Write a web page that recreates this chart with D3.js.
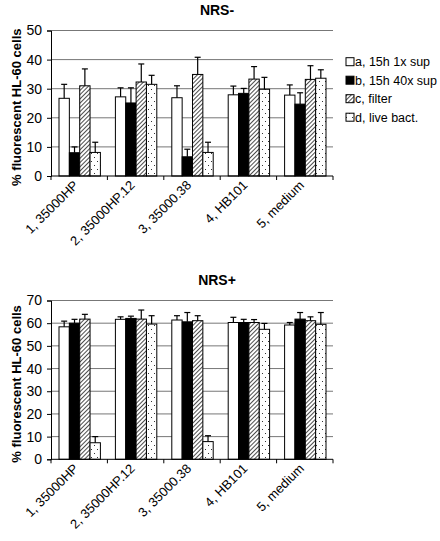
<!DOCTYPE html>
<html><head><meta charset="utf-8">
<script src="https://cdn.jsdelivr.net/npm/d3@7"></script>
<style>body{margin:0;background:#fff}svg{display:block}</style>
</head><body>
<script>
const categories = ["1, 35000HP", "2, 35000HP.12", "3, 35000.38", "4, HB101", "5, medium"];
const seriesNames = ["a, 15h 1x sup", "b, 15h 40x sup", "c, filter", "d, live bact."];

// NRS- panel: means and upper error-bar ends
const minusA = [26.7, 27.2, 26.9, 27.9, 27.8];
const minusB = [8.0, 25.1, 6.6, 28.4, 24.7];
const minusC = [31.0, 32.3, 34.9, 33.3, 33.2];
const minusD = [8.1, 31.5, 8.1, 29.8, 33.6];
const minusAErr = [31.5, 30.3, 31.0, 30.9, 31.3];
const minusBErr = [10.0, 30.3, 9.2, 30.1, 28.6];
const minusCErr = [36.8, 38.5, 40.8, 37.6, 37.9];
const minusDErr = [11.6, 34.6, 11.6, 33.9, 36.5];

// NRS+ panel
const plusA = [58.4, 61.7, 61.4, 60.3, 59.2];
const plusB = [60.0, 62.1, 60.6, 60.3, 61.8];
const plusC = [61.8, 61.8, 61.1, 60.3, 61.1];
const plusD = [7.3, 59.6, 7.8, 57.3, 59.5];
const plusAErr = [60.9, 62.8, 63.3, 62.6, 60.3];
const plusBErr = [61.7, 63.1, 64.7, 61.7, 64.7];
const plusCErr = [63.9, 65.8, 63.3, 61.6, 62.8];
const plusDErr = [10.0, 63.3, 10.4, 59.9, 64.7];

const minusTicks = [0, 10, 20, 30, 40, 50];
const plusTicks = [0, 10, 20, 30, 40, 50, 60, 70];

const W = 440, H = 541;
const svg = d3.select("body").append("svg").attr("width", W).attr("height", H);
const font = "Arial, 'Liberation Sans', sans-serif";

const defs = svg.append("defs");
const hatch = defs.append("pattern").attr("id", "hatch").attr("patternUnits", "userSpaceOnUse")
  .attr("width", 3).attr("height", 3).attr("patternTransform", "rotate(45)");
hatch.append("rect").attr("width", 3).attr("height", 3).attr("fill", "#fff");
hatch.append("line").attr("x1", 0).attr("y1", 0).attr("x2", 0).attr("y2", 3)
  .attr("stroke", "#000").attr("stroke-width", 1.4);
const dots = defs.append("pattern").attr("id", "dots").attr("patternUnits", "userSpaceOnUse")
  .attr("width", 6).attr("height", 8);
dots.append("rect").attr("width", 6).attr("height", 8).attr("fill", "#fff");
dots.append("rect").attr("x", 1).attr("y", 1).attr("width", 1).attr("height", 1).attr("fill", "#333");
dots.append("rect").attr("x", 4).attr("y", 5).attr("width", 1).attr("height", 1).attr("fill", "#333");

const fills = ["#fff", "#000", "url(#hatch)", "url(#dots)"];

const x0 = d3.scaleBand().domain(categories).range([51, 333]).paddingInner(0).paddingOuter(0);
const x1 = d3.scaleBand().domain(seriesNames).range([8, x0.bandwidth() - 7]).padding(0);

function panel(title, means, errs, ticks, yBottom, yTop, titleY) {
  const g = svg.append("g");
  const y = d3.scaleLinear().domain([0, d3.max(ticks)]).range([yBottom, yTop]);
  // gridlines
  g.selectAll(".grid").data(ticks.slice(1)).join("line")
    .attr("x1", 51).attr("x2", 333).attr("y1", d => y(d)).attr("y2", d => y(d))
    .attr("stroke", "#777").attr("stroke-width", 1);
  // y axis
  const ya = g.append("g").attr("transform", "translate(51,0)")
    .call(d3.axisLeft(y).tickValues(ticks).tickSize(4).tickPadding(5));
  ya.select(".domain").attr("stroke", "#000");
  ya.selectAll("text").attr("font-family", font).attr("font-size", 14).attr("fill", "#000");
  // bars
  seriesNames.forEach((s, si) => {
    g.selectAll(".b" + si).data(categories).join("rect")
      .attr("x", c => x0(c) + x1(s)).attr("width", x1.bandwidth())
      .attr("y", (c, i) => y(means[si][i])).attr("height", (c, i) => y(0) - y(means[si][i]))
      .attr("fill", fills[si]).attr("stroke", "#000").attr("stroke-width", 1);
    // error bars
    const cx = c => x0(c) + x1(s) + x1.bandwidth() / 2;
    g.selectAll(".e" + si).data(categories).join("line")
      .attr("x1", cx).attr("x2", cx)
      .attr("y1", (c, i) => y(means[si][i])).attr("y2", (c, i) => y(errs[si][i]))
      .attr("stroke", "#000").attr("stroke-width", 1.2);
    g.selectAll(".c" + si).data(categories).join("line")
      .attr("x1", c => cx(c) - 3).attr("x2", c => cx(c) + 3)
      .attr("y1", (c, i) => y(errs[si][i])).attr("y2", (c, i) => y(errs[si][i]))
      .attr("stroke", "#000").attr("stroke-width", 1.2);
  });
  // x axis
  g.append("line").attr("x1", 51).attr("x2", 333).attr("y1", y(0)).attr("y2", y(0))
    .attr("stroke", "#000");
  g.selectAll(".xt").data(categories.concat(["end"])).join("line")
    .attr("x1", (c, i) => i < categories.length ? x0(c) : 333)
    .attr("x2", (c, i) => i < categories.length ? x0(c) : 333)
    .attr("y1", y(0)).attr("y2", y(0) + 4).attr("stroke", "#000");
  g.selectAll(".xl").data(categories).join("text")
    .attr("transform", c => `translate(${x0(c) + x0.bandwidth() / 2},${y(0) + 10}) rotate(-45)`)
    .attr("text-anchor", "end").attr("font-family", font).attr("font-size", 13).text(c => c);
  // y label
  g.append("text")
    .attr("transform", `translate(21,${(yBottom + yTop) / 2 + 4}) rotate(-90)`)
    .attr("text-anchor", "middle").attr("font-family", font).attr("font-size", 13)
    .attr("font-weight", "bold").text("% fluorescent HL-60 cells");
  // title
  g.append("text").attr("x", 217).attr("y", titleY).attr("text-anchor", "middle")
    .attr("font-family", font).attr("font-size", 14).attr("font-weight", "bold").text(title);
}

panel("NRS-", [minusA, minusB, minusC, minusD], [minusAErr, minusBErr, minusCErr, minusDErr],
  minusTicks, 176, 30.5, 15);
panel("NRS+", [plusA, plusB, plusC, plusD], [plusAErr, plusBErr, plusCErr, plusDErr],
  plusTicks, 459.3, 300.5, 285);

// legend
const lg = svg.append("g");
seriesNames.forEach((s, i) => {
  const yy = 61.7 + i * 18.5;
  lg.append("rect").attr("x", 346).attr("y", yy - 4).attr("width", 8).attr("height", 8)
    .attr("fill", fills[i]).attr("stroke", "#000").attr("stroke-width", 1);
  lg.append("text").attr("x", 355).attr("y", yy + 4.5).attr("font-family", font)
    .attr("font-size", 12.5).text(s);
});
</script>
</body></html>
